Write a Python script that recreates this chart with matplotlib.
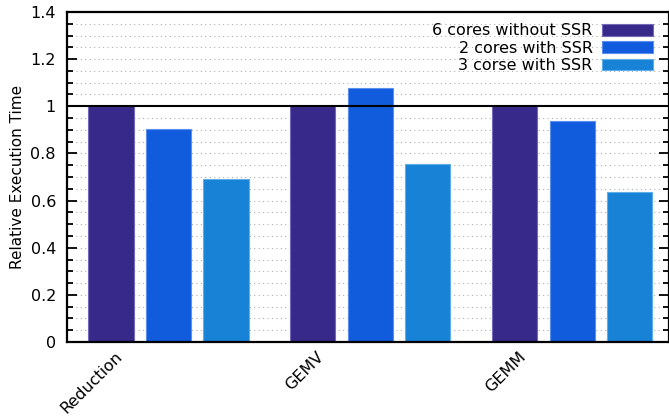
import matplotlib

matplotlib.use("Agg")
import matplotlib.pyplot as plt
import matplotlib.transforms as mtransforms
import numpy as np
from matplotlib.ticker import MultipleLocator, FuncFormatter

W, H, DPI = 669, 417, 100

categories = ["Reduction", "GEMV", "GEMM"]
series_names = ["6 cores without SSR", "2 cores with SSR", "3 corse with SSR"]
six_cores = [1.0, 1.0, 1.0]
two_cores_ssr = [0.904, 1.077, 0.937]
three_cores_ssr = [0.691, 0.754, 0.636]

colors = ["#36298a", "#105cdc", "#1782d6"]
edges = ["#7468b8", "#5a8ff0", "#5eaeea"]

fig = plt.figure(figsize=(W / DPI, H / DPI), dpi=DPI)
ax = fig.add_axes([67 / W, (417 - 342) / H, (669 - 67) / W, (342 - 12) / H])

x = np.arange(len(categories))
offsets = [-0.2847, 0.0, 0.2847]
width = 0.223
for vals, name, c, e, off in zip([six_cores, two_cores_ssr, three_cores_ssr],
                                 series_names, colors, edges, offsets):
    ax.bar(x + off, vals, width=width, color=c, edgecolor=e, linewidth=0.8,
           label=name, zorder=2)

# reference line at 1
ax.axhline(1.0, color="black", linewidth=1.5, zorder=3)

ax.set_xlim(-0.5025, 2.478)
ax.set_ylim(0, 1.4)
ax.yaxis.set_major_locator(MultipleLocator(0.2))
ax.yaxis.set_minor_locator(MultipleLocator(0.05))
ax.yaxis.set_major_formatter(FuncFormatter(lambda v, p: "%g" % round(v, 2)))
ax.grid(True, which="both", axis="y", color="#b0b0b0",
        linestyle=(0, (1, 3)), linewidth=0.8, zorder=0)
ax.set_axisbelow(True)

ax.tick_params(axis="y", which="major", direction="in", length=7, width=1.3,
               right=True, labelsize=11.5, pad=8)
ax.tick_params(axis="y", which="minor", direction="in", length=4, width=1.3,
               right=True)
ax.tick_params(axis="x", length=0, labelsize=11.5)

ax.set_xticks(x)
ax.set_xticklabels(categories, rotation=45, ha="right", va="top",
                   rotation_mode="anchor")
shift = mtransforms.ScaledTranslation(-54 / DPI, -2 / DPI, fig.dpi_scale_trans)
for lbl in ax.get_xticklabels():
    lbl.set_transform(lbl.get_transform() + shift)

for s in ax.spines.values():
    s.set_linewidth(1.6)

ax.set_ylabel("Relative Execution Time", fontsize=11, labelpad=4)

ax.legend(loc="upper right", frameon=False, markerfirst=False, fontsize=11.5,
          handlelength=3.2, handleheight=0.75, handletextpad=0.6,
          labelspacing=0.15, borderaxespad=0.2, bbox_to_anchor=(0.99, 0.995))

fig.savefig("out.png", dpi=DPI, facecolor="white")
